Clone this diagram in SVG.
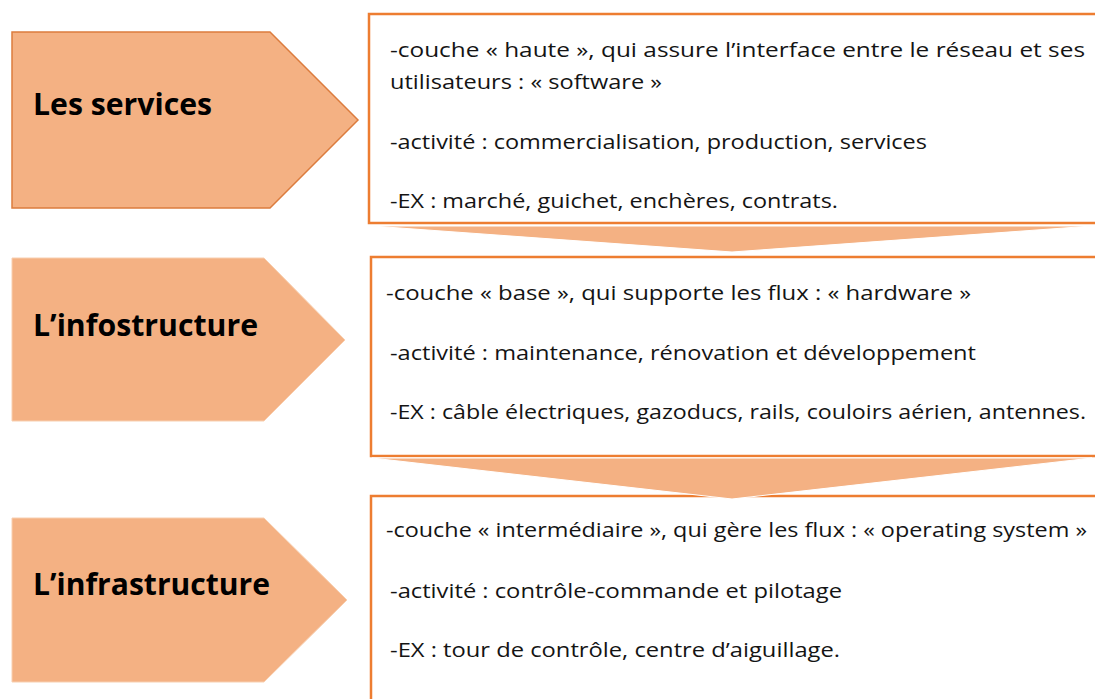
<svg xmlns="http://www.w3.org/2000/svg" width="1095" height="699" viewBox="0 0 1095 699">
<style>
.pent{fill:#f4b183;}
.p1{stroke:#dc7c3e;stroke-width:1.5;}
.p2{stroke:#f8cfb0;stroke-width:1;}
.box{fill:#ffffff;stroke:#ed7d31;stroke-width:2.5;}
.arrow{fill:#f4b183;stroke:#ffffff;stroke-width:1;}
.title{font-family:"Open Sans","Liberation Sans",Arial,sans-serif;font-weight:bold;font-size:30px;fill:#000000;}
.body{font-family:"Open Sans","Liberation Sans",Arial,sans-serif;font-size:20.5px;fill:#141414;}
</style>
<rect x="0" y="0" width="1095" height="699" fill="#ffffff"/>
<g id="node-services">
<polygon class="pent p1" points="12,32 270,32 358,120 270,208 12,208"/>
<text class="title" x="33" y="115" textLength="179" lengthAdjust="spacingAndGlyphs">Les services</text>
</g>
<g id="box-services">
<rect class="box" x="369" y="14" width="740" height="209"/>
<text class="body" x="390" y="57" textLength="695" lengthAdjust="spacingAndGlyphs">-couche « haute », qui assure l’interface entre le réseau et ses</text>
<text class="body" x="390" y="89" textLength="272" lengthAdjust="spacingAndGlyphs">utilisateurs : « software »</text>
<text class="body" x="390" y="149" textLength="537" lengthAdjust="spacingAndGlyphs">-activité : commercialisation, production, services</text>
<text class="body" x="390" y="208" textLength="448" lengthAdjust="spacingAndGlyphs">-EX : marché, guichet, enchères, contrats.</text>
</g>
<g id="node-infostructure">
<polygon class="pent p2" points="12,258 264,258 345,340 264,421 12,421"/>
<text class="title" x="33" y="336" textLength="225" lengthAdjust="spacingAndGlyphs">L’infostructure</text>
</g>
<g id="box-infostructure">
<rect class="box" x="371" y="257" width="740" height="199"/>
<text class="body" x="386" y="300" textLength="585" lengthAdjust="spacingAndGlyphs">-couche « base », qui supporte les flux : « hardware »</text>
<text class="body" x="390" y="360" textLength="586" lengthAdjust="spacingAndGlyphs">-activité : maintenance, rénovation et développement</text>
<text class="body" x="390" y="419" textLength="696" lengthAdjust="spacingAndGlyphs">-EX : câble électriques, gazoducs, rails, couloirs aérien, antennes.</text>
</g>
<g id="node-infrastructure">
<polygon class="pent p2" points="12,518 264,518 347,600 264,682 12,682"/>
<text class="title" x="33" y="595" textLength="237" lengthAdjust="spacingAndGlyphs">L’infrastructure</text>
</g>
<g id="box-infrastructure">
<rect class="box" x="371" y="496" width="740" height="220"/>
<text class="body" x="386" y="537" textLength="701" lengthAdjust="spacingAndGlyphs">-couche « intermédiaire », qui gère les flux : « operating system »</text>
<text class="body" x="390" y="598" textLength="452" lengthAdjust="spacingAndGlyphs">-activité : contrôle-commande et pilotage</text>
<text class="body" x="390" y="657" textLength="450" lengthAdjust="spacingAndGlyphs">-EX : tour de contrôle, centre d’aiguillage.</text>
</g>
<g id="connectors">
<polygon class="arrow" points="372,226 1092,226 732,252"/>
<polygon class="arrow" points="372,458 1092,458 732,499"/>
</g>
</svg>
